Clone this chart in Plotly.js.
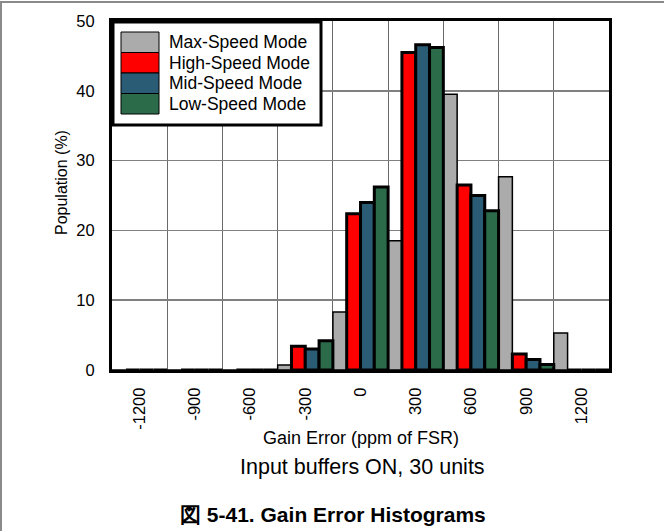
<!DOCTYPE html>
<html>
<head>
<meta charset="utf-8">
<script src="https://cdn.plot.ly/plotly-3.0.1.min.js"></script>
<style>
html,body{margin:0;padding:0;background:#fff;}
#wrap{position:relative;width:664px;height:531px;}
#chart{width:664px;height:531px;}
#frame{position:absolute;left:0px;top:1px;width:662px;height:530px;border-top:2px solid #8a8a8a;border-left:2px solid #8a8a8a;pointer-events:none;}
</style>
</head>
<body>
<div id="wrap"><div id="chart"></div><div id="frame"></div></div>
<script>
// ---- data ----
const categories = [-1200, -900, -600, -300, 0, 300, 600, 900, 1200];
const tickLabels = ['-1200', '-900', '-600', '-300', '0', '300', '600', '900', '1200'];
const seriesNames = ['Max-Speed Mode', 'High-Speed Mode', 'Mid-Speed Mode', 'Low-Speed Mode'];
const maxSpeed  = [0, 0, 0, 0.7, 8.3, 18.5, 39.5, 27.7, 5.3];
const highSpeed = [0, 0, 0, 3.4, 22.4, 45.5, 26.5, 2.3, 0];
const midSpeed  = [0, 0, 0, 3.0, 24.0, 46.6, 25.0, 1.5, 0];
const lowSpeed  = [0, 0, 0, 4.2, 26.2, 46.2, 22.8, 0.8, 0];
const xTitle = 'Gain Error (ppm of FSR)';
const yTitle = 'Population (%)';
const subTitle = 'Input buffers ON, 30 units';
const caption = '図 5-41. Gain Error Histograms';

// ---- styles ----
const colors = ['#ababab', '#ff0000', '#2b5c76', '#2b6b4a'];
const lineWidths = [1.5, 3, 3, 3];
const FONT = 'Liberation Sans, Arial, sans-serif';

const seriesValues = [maxSpeed, highSpeed, midSpeed, lowSpeed];
const traces = seriesValues.map((vals, i) => ({
  type: 'bar',
  name: seriesNames[i],
  x: categories,
  y: vals,
  marker: {color: colors[i], line: {color: '#000', width: lineWidths[i]}},
  showlegend: false,
  hoverinfo: 'x+y+name'
}));

const M = {l: 112, r: 55, t: 21, b: 161};
const W = 664, H = 531;
const pw = W - M.l - M.r, ph = H - M.t - M.b;
const px = x => (x - M.l) / pw;
const py = y => (H - M.b - y) / ph;

const step = categories[1] - categories[0];
const bounds = categories.map(c => c - step / 2).concat([categories[categories.length - 1] + step / 2]);

const shapes = [];
const annotations = [];
// custom legend
shapes.push({type: 'rect', xref: 'paper', yref: 'paper', x0: px(113), x1: px(321), y0: py(125), y1: py(22),
  fillcolor: '#fff', line: {color: '#000', width: 3}, layer: 'above'});
const rowTops = [32, 52.5, 73, 93.5];
const rowH = 20.5;
seriesNames.forEach((n, i) => {
  shapes.push({type: 'rect', xref: 'paper', yref: 'paper', x0: px(121), x1: px(159),
    y0: py(rowTops[i] + rowH), y1: py(rowTops[i]),
    fillcolor: colors[i], line: {color: '#000', width: 1}, layer: 'above'});
  annotations.push({xref: 'paper', yref: 'paper', x: px(167), y: py(rowTops[i] + rowH / 2),
    xanchor: 'left', yanchor: 'middle', text: n, showarrow: false,
    font: {family: FONT, size: 17.5, color: '#000'}});
});
// axis titles
annotations.push({xref: 'paper', yref: 'paper', x: px(361), y: py(438), xanchor: 'center', yanchor: 'middle',
  text: xTitle, showarrow: false, font: {family: FONT, size: 18, color: '#000'}});
annotations.push({xref: 'paper', yref: 'paper', x: px(61), y: py(183), xanchor: 'center', yanchor: 'middle',
  text: yTitle, textangle: -90, showarrow: false, font: {family: FONT, size: 16, color: '#000'}});
annotations.push({xref: 'paper', yref: 'paper', x: px(362), y: py(467), xanchor: 'center', yanchor: 'middle',
  text: subTitle, showarrow: false, font: {family: FONT, size: 21.5, color: '#000'}});
annotations.push({xref: 'paper', yref: 'paper', x: px(333), y: py(514), xanchor: 'center', yanchor: 'middle',
  text: '<b>' + caption + '</b>', showarrow: false, font: {family: FONT, size: 21, color: '#000'}});

const layout = {
  width: W, height: H,
  margin: M,
  paper_bgcolor: '#fff', plot_bgcolor: '#fff',
  barmode: 'group', bargap: 0, bargroupgap: 0,
  font: {family: FONT, size: 16, color: '#000'},
  xaxis: {
    range: [bounds[0], bounds[bounds.length - 1]],
    tickmode: 'array', tickvals: categories, ticktext: tickLabels,
    tickangle: -90, ticks: '', ticklabelstandoff: 8,
    tickfont: {family: FONT, size: 16.5, color: '#000'},
    showgrid: false, zeroline: false,
    minor: {tickmode: 'array', tickvals: bounds, showgrid: true, gridcolor: '#6a6a6a', gridwidth: 1, ticks: ''},
    showline: true, linecolor: '#000', linewidth: 3, mirror: true,
    fixedrange: true
  },
  yaxis: {
    range: [0, 50], tickmode: 'linear', tick0: 0, dtick: 10,
    ticks: '', ticklabelstandoff: 11,
    tickfont: {family: FONT, size: 16.5, color: '#000'},
    showgrid: true, gridcolor: '#808080', gridwidth: 1.5, zeroline: false,
    showline: true, linecolor: '#000', linewidth: 3, mirror: true,
    fixedrange: true
  },
  shapes: shapes,
  annotations: annotations,
  showlegend: false
};

Plotly.newPlot('chart', traces, layout, {displayModeBar: false, staticPlot: true});
</script>
</body>
</html>
